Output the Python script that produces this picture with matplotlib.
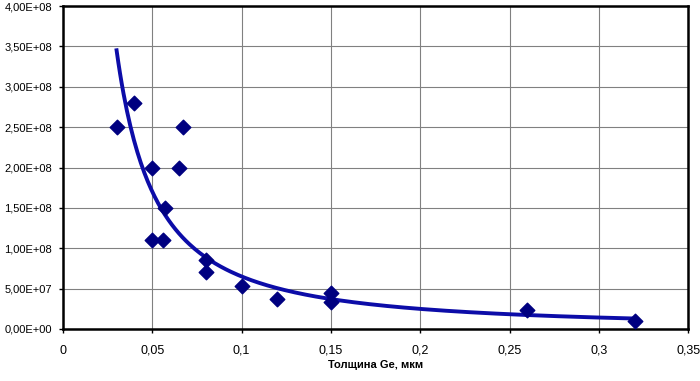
import numpy as np
import matplotlib
matplotlib.use("Agg")
import matplotlib.pyplot as plt
from matplotlib.ticker import FuncFormatter, MultipleLocator

plt.rcParams['font.family'] = ['Liberation Sans', 'DejaVu Sans']

# --- data ---
thickness = [0.03, 0.04, 0.05, 0.065, 0.067, 0.057, 0.05, 0.056,
             0.08, 0.08, 0.10, 0.12, 0.15, 0.15, 0.26, 0.32]
value = [2.5e8, 2.8e8, 2.0e8, 2.0e8, 2.5e8, 1.5e8, 1.1e8, 1.1e8,
         8.5e7, 7.0e7, 5.3e7, 3.7e7, 4.4e7, 3.4e7, 2.3e7, 1.0e7]

# power trend line (Excel style), from the points above
b, ln_a = np.polyfit(np.log(thickness), np.log(value), 1)
xt = np.linspace(min(thickness), max(thickness), 300)
yt = np.exp(ln_a) * xt ** b

fig = plt.figure(figsize=(7, 3.81), dpi=100)
ax = fig.add_axes([0.09, 0.1365, 0.893, 0.8475])

ax.plot(xt, yt, color='#0c0ca8', lw=2.8, zorder=3)
ax.scatter(thickness, value, marker='D', s=55, color='#000080', zorder=4)

ax.set_xlim(0, 0.35)
ax.set_ylim(0, 4e8)
ax.xaxis.set_major_locator(MultipleLocator(0.05))
ax.yaxis.set_major_locator(MultipleLocator(5e7))

def xfmt(v, pos):
    s = ('%.2f' % v).rstrip('0').rstrip('.')
    return s.replace('.', ',')

def yfmt(v, pos):
    return ('%.2E' % v).replace('.', ',')

ax.xaxis.set_major_formatter(FuncFormatter(xfmt))
ax.yaxis.set_major_formatter(FuncFormatter(yfmt))
ax.tick_params(length=3, width=1, color='black')
ax.tick_params(axis='y', labelsize=8, pad=5)
ax.tick_params(axis='x', labelsize=9, pad=8.5)

ax.grid(True, color='#808080', lw=0.8)
ax.set_axisbelow(True)
for sp in ax.spines.values():
    sp.set_color('black')
    sp.set_linewidth(1.8)

ax.set_xlabel('Толщина Ge, мкм', fontsize=8, fontweight='bold', labelpad=2)

fig.savefig('out.png', dpi=100)
